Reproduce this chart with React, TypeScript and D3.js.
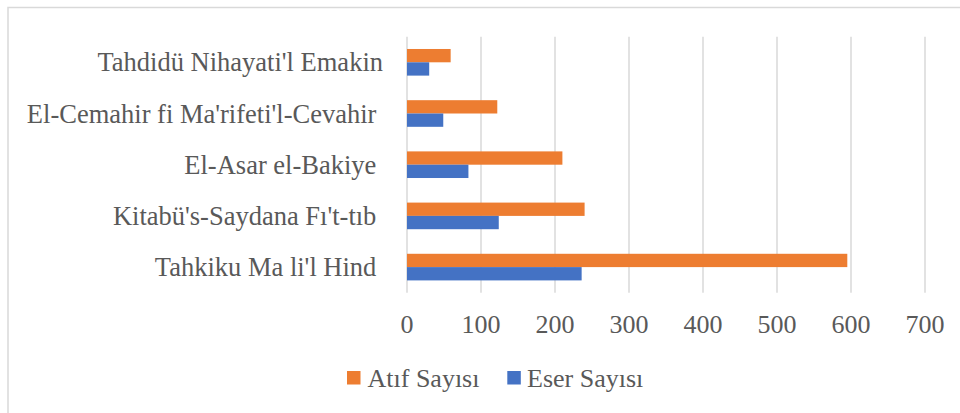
import React from "react";
import * as d3 from "d3";

const categories = [
  "Tahdidü Nihayati'l Emakin",
  "El-Cemahir fi Ma'rifeti'l-Cevahir ",
  "El-Asar el-Bakiye ",
  "Kitabü's-Saydana Fı't-tıb ",
  "Tahkiku Ma li'l Hind ",
];
const atifValues = [59, 122, 210, 240, 595];
const eserValues = [30, 49, 83, 124, 236];
const seriesNames = ["Atıf Sayısı", "Eser Sayısı"];
const seriesColors = ["#ED7D31", "#4472C4"];
const xTicks = [0, 100, 200, 300, 400, 500, 600, 700];

const W = 960;
const H = 413;
const FONT = "'Liberation Serif', 'Times New Roman', serif";
const TEXT = "#595959";

export default function App() {
  const x = d3.scaleLinear().domain([0, 700]).range([407, 925]);
  const y = d3
    .scaleBand<string>()
    .domain(categories)
    .range([36.7, 292.7])
    .paddingInner(0.48)
    .paddingOuter(0.24);
  const inner = d3
    .scaleBand<string>()
    .domain(seriesNames)
    .range([0, y.bandwidth()]);
  const values = [atifValues, eserValues];

  return (
    <svg
      width={W}
      height={H}
      style={{ position: "absolute", left: 0, top: 0, background: "#fff" }}
      fontFamily={FONT}
    >
      <rect x={8} y={7.5} width={1000} height={500} fill="#fff" stroke="#d9d9d9" strokeWidth={1.5} />
      {xTicks.map((t) => (
        <line
          key={t}
          x1={x(t)}
          x2={x(t)}
          y1={36.7}
          y2={292.7}
          stroke="#d9d9d9"
          strokeWidth={1.5}
        />
      ))}
      {categories.map((c, i) => (
        <g key={c}>
          {seriesNames.map((s, j) => (
            <rect
              key={s}
              x={x(0)}
              y={(y(c) as number) + (inner(s) as number)}
              width={x(values[j][i]) - x(0)}
              height={inner.bandwidth()}
              fill={seriesColors[j]}
            />
          ))}
          <text
            x={383}
            y={(y(c) as number) + y.bandwidth() / 2 + 9}
            textAnchor="end"
            fontSize={26.5}
            fill={TEXT}
            style={{ whiteSpace: "pre" }}
          >
            {c}
          </text>
        </g>
      ))}
      {xTicks.map((t) => (
        <text
          key={t}
          x={x(t)}
          y={332.7}
          textAnchor="middle"
          fontSize={26}
          fill={TEXT}
        >
          {t}
        </text>
      ))}
      <rect x={347} y={371} width={13.5} height={13.5} fill={seriesColors[0]} />
      <text x={367.5} y={387} fontSize={26} fill={TEXT}>
        {seriesNames[0]}
      </text>
      <rect x={507.3} y={371} width={13.5} height={13.5} fill={seriesColors[1]} />
      <text x={527} y={387} fontSize={26} fill={TEXT}>
        {seriesNames[1]}
      </text>
    </svg>
  );
}
